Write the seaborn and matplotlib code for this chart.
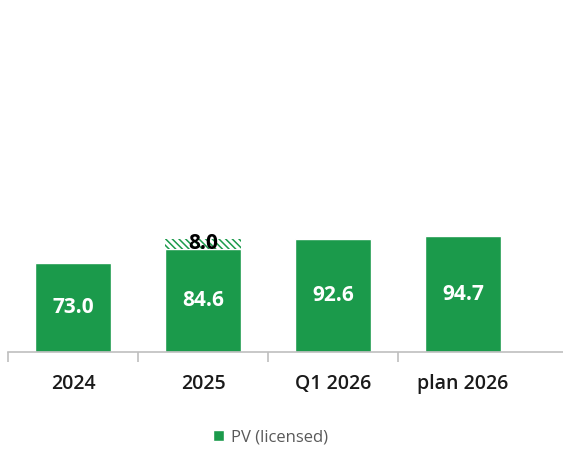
import matplotlib

matplotlib.use("Agg")

import matplotlib.pyplot as plt
import pandas as pd
import seaborn as sns
from matplotlib.patches import Patch

categories = ["2024", "2025", "Q1 2026", "plan 2026"]
pv_licensed = [73.0, 84.6, 92.6, 94.7]
extra_2025 = [0.0, 8.0, 0.0, 0.0]

GREEN = "#1b9a4b"

sns.set_theme(style="white")
plt.rcParams["font.family"] = ["Open Sans", "DejaVu Sans"]
plt.rcParams["hatch.linewidth"] = 1.1

df = pd.DataFrame({"category": categories, "value": pv_licensed, "extra": extra_2025})

fig = plt.figure(figsize=(5.63, 4.5), dpi=100)
ax = fig.add_axes([8 / 563, 98 / 450, 555 / 563, 342 / 450])

sns.barplot(data=df, x="category", y="value", color=GREEN, saturation=1,
            width=0.58, ax=ax)

# hatched extra segment on top of the 2025 bar
ax.bar(range(len(categories)), df["extra"], bottom=df["value"], width=0.58,
       color="white", edgecolor=GREEN, hatch="\\\\\\\\\\", linewidth=0)

for i, (v, e) in enumerate(zip(df["value"], df["extra"])):
    ax.text(i, v / 2, f"{v:.1f}", ha="center", va="center", color="white",
            fontsize=15, fontweight="bold")
    if e > 0:
        ax.text(i, v + e / 2, f"{e:.1f}", ha="center", va="center",
                color="black", fontsize=15, fontweight="bold")

ax.set_ylim(0, 280)
ax.set_xlim(-0.5, 3.77)
ax.set_xlabel("")
ax.set_ylabel("")
ax.set_yticks([])
for side in ["top", "right", "left"]:
    ax.spines[side].set_visible(False)
ax.spines["bottom"].set_color("#bfbfbf")
ax.spines["bottom"].set_linewidth(1.2)

ax.set_xticks(range(len(categories)))
ax.set_xticklabels(categories, fontsize=14, color="#1a1a1a", fontweight="semibold")
ax.tick_params(axis="x", which="major", length=0, pad=16)
ax.set_xticks([-0.5, 0.5, 1.5, 2.5], minor=True)
ax.tick_params(axis="x", which="minor", bottom=True, length=7, width=1.2,
               color="#bfbfbf", direction="out")

fig.legend(handles=[Patch(facecolor=GREEN, label="PV (licensed)")],
           loc="center", bbox_to_anchor=(0.48, 0.028), frameon=False,
           fontsize=12, labelcolor="#595959", handlelength=0.7,
           handleheight=0.7, handletextpad=0.4)

fig.savefig("out.png", dpi=100)
